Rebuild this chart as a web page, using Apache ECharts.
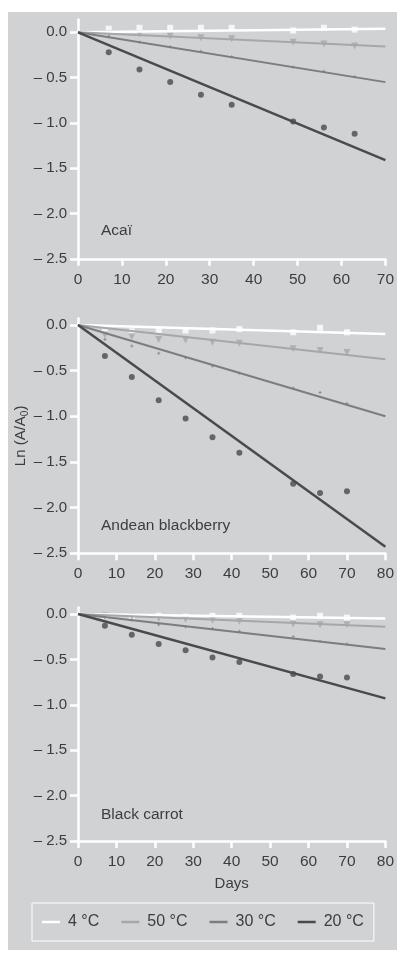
<!DOCTYPE html>
<html>
<head>
<meta charset="utf-8">
<script src="https://cdn.jsdelivr.net/npm/echarts@6/dist/echarts.min.js"></script>
<style>
  html, body { margin: 0; padding: 0; background: #fff; }
  #chart { width: 397px; height: 960px; }
</style>
</head>
<body>
<div id="chart"></div>
<script>
  // ---- data ----
  var tempNames = ['4 °C', '50 °C', '30 °C', '20 °C'];
  var yTicks = [-2.5, -2.0, -1.5, -1.0, -0.5, 0.0];

  var acaiDays = [7, 14, 21, 28, 35, 49, 56, 63];
  var acai4 = [0.04, 0.05, 0.05, 0.05, 0.05, 0.02, 0.05, 0.03];
  var acai50 = [-0.02, -0.02, -0.04, -0.06, -0.07, -0.11, -0.13, -0.15];
  var acai30 = [-0.05, -0.11, -0.16, -0.21, -0.27, -0.385, -0.43, -0.49];
  var acai20 = [-0.22, -0.41, -0.55, -0.69, -0.80, -0.985, -1.05, -1.12];
  var acaiFitEnd = [0.04, -0.158, -0.55, -1.41];   // fitted value at day 70

  var days = [7, 14, 21, 28, 35, 42, 56, 63, 70];
  var andean4 = [-0.05, -0.07, -0.055, -0.06, -0.06, -0.045, -0.08, -0.03, -0.08];
  var andean50 = [-0.11, -0.13, -0.16, -0.165, -0.19, -0.2, -0.26, -0.28, -0.3];
  var andean30 = [-0.16, -0.23, -0.31, -0.36, -0.45, -0.53, -0.69, -0.74, -0.86];
  var andean20 = [-0.34, -0.57, -0.825, -1.025, -1.23, -1.40, -1.74, -1.84, -1.82];
  var andeanFitEnd = [-0.1, -0.375, -1.0, -2.43];   // fitted value at day 80

  var carrot4 = [-0.02, -0.03, -0.02, -0.03, -0.02, -0.02, -0.04, -0.02, -0.04];
  var carrot50 = [-0.02, -0.03, -0.05, -0.06, -0.07, -0.08, -0.11, -0.12, -0.12];
  var carrot30 = [-0.04, -0.07, -0.12, -0.14, -0.16, -0.19, -0.25, -0.30, -0.33];
  var carrot20 = [-0.13, -0.23, -0.33, -0.40, -0.48, -0.53, -0.66, -0.69, -0.70];
  var carrotFitEnd = [-0.05, -0.14, -0.385, -0.93];

  // ---- styles ----
  var textColor = '#3d3d3f';
  var font = '"Liberation Sans", Arial, sans-serif';
  var colors = ['#ffffff', '#a6a7a9', '#7c7d7f', '#4a4a4d'];
  var lineWidths = [2.5, 2, 2, 2.5];
  var symbols = [
    { symbol: 'rect', size: 6, rotate: 0 },
    { symbol: 'triangle', size: 7, rotate: 180 },
    { symbol: 'path://M1,0H2V1H3V2H2V3H1V2H0V1H1Z', size: 3, rotate: 0 },
    { symbol: 'circle', size: 6, rotate: 0 }
  ];

  var myChart = echarts.init(document.getElementById('chart'));

  function zip(xs, ys) {
    var out = [];
    for (var i = 0; i < xs.length; i++) out.push([xs[i], ys[i]]);
    return out;
  }

  function xAxisFor(idx, max, withName) {
    var ax = {
      type: 'value', gridIndex: idx, min: 0, max: max, interval: 10,
      axisLine: { onZero: false, lineStyle: { color: '#fff', width: 2.5 } },
      axisTick: { length: 7, lineStyle: { color: '#fff', width: 2.5 } },
      axisLabel: { color: textColor, fontSize: 15.5, fontFamily: font, margin: 13 },
      splitLine: { show: false }
    };
    if (withName) {
      ax.name = 'Days';
      ax.nameLocation = 'middle';
      ax.nameGap = 35;
      ax.nameTextStyle = { color: textColor, fontSize: 15, fontFamily: font };
    }
    return ax;
  }

  function yAxisFor(idx, max, withName) {
    var ax = {
      type: 'value', gridIndex: idx, min: -2.5, max: max,
      axisLine: { onZero: false, lineStyle: { color: '#fff', width: 2.5 } },
      axisTick: { length: 8, customValues: yTicks, lineStyle: { color: '#fff', width: 2.5 } },
      axisLabel: {
        customValues: yTicks, color: textColor, fontSize: 15, fontFamily: font, margin: 11,
        formatter: function (v) {
          return v === 0 ? '0.0' : '\u2013 ' + Math.abs(v).toFixed(1);
        }
      },
      splitLine: { show: false }
    };
    if (withName) {
      ax.name = '{a|Ln (A/A}{s|0}{a|)}';
      ax.nameLocation = 'middle';
      ax.nameGap = 48;
      ax.nameMoveOverlap = false;
      ax.nameTextStyle = {
        rich: {
          a: { color: textColor, fontSize: 15, fontFamily: font },
          s: { color: textColor, fontSize: 10, fontFamily: font, padding: [8, 0, 0, 0] }
        }
      };
    }
    return ax;
  }

  var series = [];
  function addPanel(idx, xs, values, fitEnd, xMax) {
    for (var k = 0; k < 4; k++) {
      series.push({
        type: 'scatter', name: tempNames[k] + ' data',
        xAxisIndex: idx, yAxisIndex: idx,
        symbol: symbols[k].symbol, symbolSize: symbols[k].size, symbolRotate: symbols[k].rotate,
        itemStyle: { color: colors[k] },
        data: zip(xs, values[k]), silent: true
      });
    }
    for (var k = 0; k < 4; k++) {
      series.push({
        type: 'line', name: tempNames[k],
        xAxisIndex: idx, yAxisIndex: idx,
        symbol: 'none', color: colors[k],
        lineStyle: { color: colors[k], width: lineWidths[k] },
        data: [[0, 0], [xMax, fitEnd[k]]], silent: true
      });
    }
  }
  addPanel(0, acaiDays, [acai4, acai50, acai30, acai20], acaiFitEnd, 70);
  addPanel(1, days, [andean4, andean50, andean30, andean20], andeanFitEnd, 80);
  addPanel(2, days, [carrot4, carrot50, carrot30, carrot20], carrotFitEnd, 80);

  function panelLabel(text, y) {
    return {
      type: 'text', left: 101, top: y, z: 10,
      style: { text: text, fill: textColor, fontSize: 15.5, fontFamily: font }
    };
  }

  myChart.setOption({
    animation: false,
    textStyle: { fontFamily: font },
    graphic: [
      { type: 'rect', shape: { x: 8, y: 12, width: 389, height: 938 }, style: { fill: '#d1d2d4' }, z: -10 },
      panelLabel('Aca\u00ef', 223),
      panelLabel('Andean blackberry', 518),
      panelLabel('Black carrot', 807)
    ],
    grid: [
      { left: 78, top: 19.6, width: 312, height: 239.2 },
      { left: 78, top: 318.6, width: 312.5, height: 234.6 },
      { left: 78, top: 607.6, width: 312.5, height: 233.4 }
    ],
    xAxis: [xAxisFor(0, 70, false), xAxisFor(1, 80, false), xAxisFor(2, 80, true)],
    yAxis: [yAxisFor(0, 0.14, false), yAxisFor(1, 0.07, true), yAxisFor(2, 0.07, false)],
    legend: {
      data: tempNames,
      left: 32, top: 903,
      orient: 'horizontal',
      padding: [11, 10, 11, 10],
      borderColor: '#ffffff', borderWidth: 1,
      icon: 'rect', itemWidth: 18, itemHeight: 2.5, itemGap: 22,
      textStyle: { color: textColor, fontSize: 16, fontFamily: font, padding: [0, 0, 0, 3] },
      selectedMode: false
    },
    series: series
  });
</script>
</body>
</html>
